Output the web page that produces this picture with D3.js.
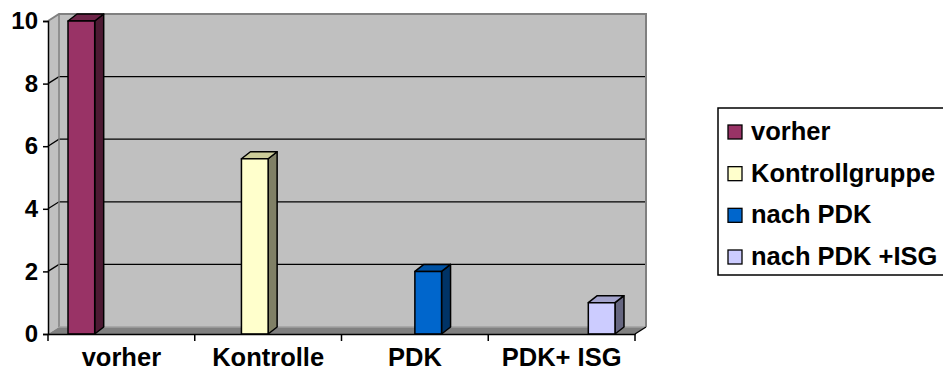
<!DOCTYPE html>
<html>
<head>
<meta charset="utf-8">
<script src="https://cdn.jsdelivr.net/npm/d3@7"></script>
<style>
  html, body { margin: 0; padding: 0; background: #ffffff; }
  svg { display: block; font-family: "Liberation Sans", Arial, sans-serif; font-weight: bold; }
</style>
</head>
<body>
<svg id="chart" width="943" height="372"></svg>
<script>
// Categories on the x axis and the four series (each has a value in one category only)
const categories = ["vorher", "Kontrolle", "PDK", "PDK+ ISG"];
const seriesNames = ["vorher", "Kontrollgruppe", "nach PDK", "nach PDK +ISG"];
const vorherValues = [10, null, null, null];
const kontrollValues = [null, 5.6, null, null];
const pdkValues = [null, null, 2, null];
const pdkIsgValues = [null, null, null, 1];
const yTickValues = [0, 2, 4, 6, 8, 10];

const seriesValues = [vorherValues, kontrollValues, pdkValues, pdkIsgValues];

// Face colours: front, top, side
const palette = [
  { front: "#993366", top: "#6e2549", side: "#4d1a33" },
  { front: "#ffffcc", top: "#cccc99", side: "#808066" },
  { front: "#0066cc", top: "#0052a3", side: "#003366" },
  { front: "#ccccff", top: "#a3a3cc", side: "#666680" }
];

const labelFont = 25.5;
const tickFont = 24;

const svg = d3.select("#chart");

// Front plane of the 3D plot
const left = 48, right = 635;
const x = d3.scaleBand().domain(categories).range([left, right]).paddingInner(0).paddingOuter(0);
const xs = d3.scaleBand().domain(seriesNames).range([0, x.bandwidth()]).paddingInner(0).paddingOuter(0.75);
const y = d3.scaleLinear().domain([0, 10]).range([334, 21]);

// Depth offsets of the walls and of the columns
const wallDx = 11, wallDy = -7;
const barDx = 9, barDy = -7;

const pts = a => a.map(p => p.join(",")).join(" ");

const walls = svg.append("g");
// back wall
walls.append("rect")
  .attr("x", left + wallDx).attr("y", y(10) + wallDy)
  .attr("width", right - left).attr("height", y(0) - y(10))
  .attr("fill", "#c0c0c0");
// left side wall
walls.append("polygon")
  .attr("points", pts([[left, y(10)], [left + wallDx, y(10) + wallDy], [left + wallDx, y(0) + wallDy], [left, y(0)]]))
  .attr("fill", "#c0c0c0");
// floor
walls.append("polygon")
  .attr("points", pts([[left, y(0)], [left + wallDx, y(0) + wallDy], [right + wallDx, y(0) + wallDy], [right, y(0)]]))
  .attr("fill", "#808080");

// gridlines across side wall and back wall
const grid = svg.append("g");
yTickValues.filter(v => v > 0 && v < 10).forEach(v => {
  grid.append("polyline")
    .attr("points", pts([[left, y(v)], [left + wallDx, y(v) + wallDy], [right + wallDx, y(v) + wallDy]]))
    .attr("fill", "none").attr("stroke", "#000").attr("stroke-width", 1.3);
});

// wall edges
const edgeG = svg.append("g").attr("fill", "none").attr("stroke", "#808080").attr("stroke-width", 2);
edgeG.append("polyline")
  .attr("points", pts([[left, y(10)], [left + wallDx, y(10) + wallDy], [right + wallDx, y(10) + wallDy], [right + wallDx, y(0) + wallDy]]));
edgeG.append("line")
  .attr("x1", left + wallDx).attr("y1", y(10) + wallDy)
  .attr("x2", left + wallDx).attr("y2", y(0) + wallDy)
  .attr("stroke-width", 1.5);
edgeG.append("line")
  .attr("x1", left + wallDx).attr("y1", y(0) + wallDy)
  .attr("x2", right + wallDx).attr("y2", y(0) + wallDy)
  .attr("stroke", "#a0a0a0").attr("stroke-width", 1.5);
edgeG.append("line")
  .attr("x1", right + wallDx).attr("y1", y(0) + wallDy)
  .attr("x2", right).attr("y2", y(0))
  .attr("stroke", "#000").attr("stroke-width", 1.3);

// columns
const bars = svg.append("g").attr("stroke", "#000").attr("stroke-width", 1.5).attr("stroke-linejoin", "round");
seriesValues.forEach((vals, si) => {
  vals.forEach((v, ci) => {
    if (v == null) return;
    const x0 = x(categories[ci]) + xs(seriesNames[si]);
    const x1 = x0 + xs.bandwidth();
    const yt = y(v), yb = y(0);
    const c = palette[si];
    bars.append("polygon")
      .attr("points", pts([[x1, yt], [x1 + barDx, yt + barDy], [x1 + barDx, yb + barDy], [x1, yb]]))
      .attr("fill", c.side);
    bars.append("polygon")
      .attr("points", pts([[x0, yt], [x0 + barDx, yt + barDy], [x1 + barDx, yt + barDy], [x1, yt]]))
      .attr("fill", c.top);
    bars.append("rect")
      .attr("x", x0).attr("y", yt).attr("width", x1 - x0).attr("height", yb - yt)
      .attr("fill", c.front);
  });
});

// y axis
const yAxis = svg.append("g")
  .attr("transform", `translate(${left},0)`)
  .call(d3.axisLeft(y).tickValues(yTickValues).tickSize(5).tickPadding(5).tickFormat(d3.format("d")));
yAxis.select(".domain").attr("stroke", "#000").attr("stroke-width", 1.5);
yAxis.selectAll(".tick line").attr("stroke", "#000").attr("stroke-width", 1.5);
yAxis.selectAll("text").attr("font-size", tickFont).attr("font-weight", "bold")
  .attr("font-family", "'Liberation Sans', Arial, sans-serif").attr("fill", "#000");

// x axis
const xAxis = svg.append("g")
  .attr("transform", `translate(0,${y(0)})`)
  .call(d3.axisBottom(x).tickSize(0).tickPadding(14));
xAxis.select(".domain").attr("stroke", "#000").attr("stroke-width", 1.5);
xAxis.selectAll("text").attr("font-size", labelFont).attr("font-weight", "bold")
  .attr("font-family", "'Liberation Sans', Arial, sans-serif").attr("fill", "#000");
// category separators
const bounds = categories.map(c => x(c)).concat([right]);
xAxis.selectAll(".sep").data(bounds).join("line")
  .attr("class", "sep")
  .attr("x1", d => d).attr("x2", d => d)
  .attr("y1", 0).attr("y2", 7)
  .attr("stroke", "#000").attr("stroke-width", 1.5);

// legend
const legend = svg.append("g").attr("transform", "translate(718,108)");
legend.append("rect")
  .attr("x", 0).attr("y", 0).attr("width", 260).attr("height", 167)
  .attr("fill", "#fff").attr("stroke", "#000").attr("stroke-width", 1.5);
const rowY = d3.scaleLinear().domain([0, 3]).range([32, 157]);
seriesNames.forEach((name, i) => {
  const g = legend.append("g").attr("transform", `translate(0,${rowY(i)})`);
  g.append("rect")
    .attr("x", 10).attr("y", -15).attr("width", 14).attr("height", 14)
    .attr("fill", palette[i].front).attr("stroke", "#000").attr("stroke-width", 1.3);
  g.append("text")
    .attr("x", 33).attr("y", 0)
    .attr("font-size", labelFont).attr("fill", "#000")
    .text(name);
});
</script>
</body>
</html>
